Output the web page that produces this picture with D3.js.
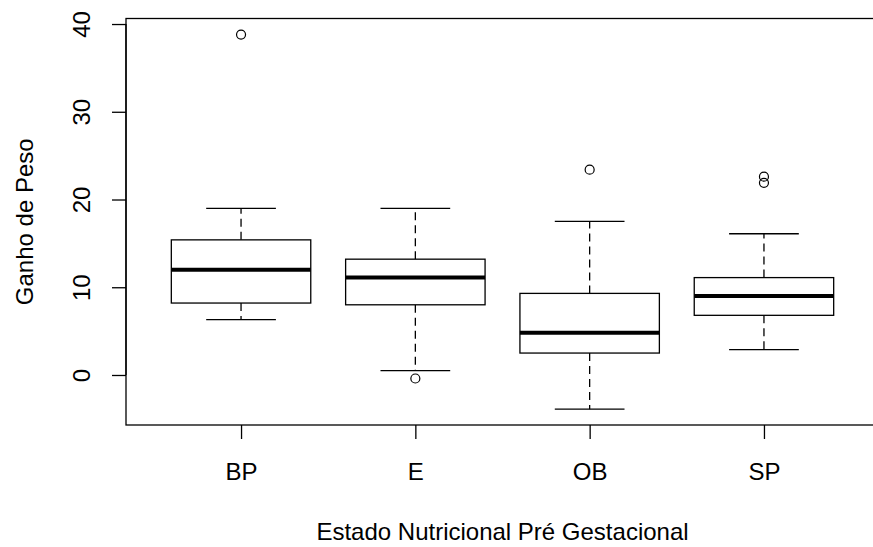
<!DOCTYPE html>
<html>
<head>
<meta charset="utf-8">
<script src="https://cdn.jsdelivr.net/npm/d3@7"></script>
<style>
    body { margin: 0; background: #fff; }
    svg { display: block; }
    text { font-family: "Liberation Sans", Arial, sans-serif; fill: #000; }
</style>
</head>
<body>
<div id="chart"></div>
<script>
// boxplot stats
const categories = ['BP', 'E', 'OB', 'SP'];
const whiskerLow = [6.3, 0.5, -3.9, 2.9];
const q1 = [8.2, 8.0, 2.5, 6.8];
const median = [12.0, 11.1, 4.8, 9.0];
const q3 = [15.4, 13.2, 9.3, 11.1];
const whiskerHigh = [19.0, 19.0, 17.5, 16.1];
const outliers = [[38.8], [-0.4], [23.4], [22.6, 21.9]];
const yTicks = [0, 10, 20, 30, 40];

const width = 873;
const height = 547;
const plot = { left: 126, right: 879, top: 18.5, bottom: 425 };

const svg = d3.select('#chart')
    .append('svg')
    .attr('width', width)
    .attr('height', height);

const x = d3.scaleLinear()
    .domain([0.34, categories.length + 0.66])
    .range([plot.left, plot.right]);

const y = d3.scaleLinear()
    .domain([-5.7, 40.63])
    .range([plot.bottom, plot.top]);

const boxW = 0.8; // in category units
const rows = categories.map((c, i) => ({
    label: c, pos: i + 1,
    lo: whiskerLow[i], q1: q1[i], med: median[i], q3: q3[i], hi: whiskerHigh[i],
    out: outliers[i]
}));

const g = svg.append('g').attr('stroke', '#000').attr('fill', 'none');

// whiskers (dashed)
g.selectAll('.whisker-low')
    .data(rows)
    .join('line')
    .attr('x1', d => x(d.pos)).attr('x2', d => x(d.pos))
    .attr('y1', d => y(d.q1)).attr('y2', d => y(d.lo))
    .attr('stroke-width', 1.3)
    .attr('stroke-dasharray', '8,5');

g.selectAll('.whisker-high')
    .data(rows)
    .join('line')
    .attr('x1', d => x(d.pos)).attr('x2', d => x(d.pos))
    .attr('y1', d => y(d.q3)).attr('y2', d => y(d.hi))
    .attr('stroke-width', 1.3)
    .attr('stroke-dasharray', '8,5');

// staples
['lo', 'hi'].forEach(k => {
    g.selectAll('.cap-' + k)
        .data(rows)
        .join('line')
        .attr('x1', d => x(d.pos - boxW / 4)).attr('x2', d => x(d.pos + boxW / 4))
        .attr('y1', d => y(d[k])).attr('y2', d => y(d[k]))
        .attr('stroke-width', 1.3);
});

// boxes
g.selectAll('rect.box')
    .data(rows)
    .join('rect')
    .attr('class', 'box')
    .attr('x', d => x(d.pos - boxW / 2))
    .attr('width', d => x(d.pos + boxW / 2) - x(d.pos - boxW / 2))
    .attr('y', d => y(d.q3))
    .attr('height', d => y(d.q1) - y(d.q3))
    .attr('fill', '#fff')
    .attr('stroke-width', 1.3);

// medians
g.selectAll('.median')
    .data(rows)
    .join('line')
    .attr('x1', d => x(d.pos - boxW / 2)).attr('x2', d => x(d.pos + boxW / 2))
    .attr('y1', d => y(d.med)).attr('y2', d => y(d.med))
    .attr('stroke-width', 4);

// outliers
g.selectAll('circle')
    .data(rows.flatMap(d => d.out.map(v => ({ pos: d.pos, v }))))
    .join('circle')
    .attr('cx', d => x(d.pos))
    .attr('cy', d => y(d.v))
    .attr('r', 4.5)
    .attr('stroke-width', 1.2);

// axes
const xAxis = svg.append('g')
    .attr('transform', `translate(0,${plot.bottom})`)
    .call(d3.axisBottom(x).tickValues(categories.map((c, i) => i + 1))
        .tickFormat(d => categories[d - 1]).tickSize(14).tickSizeOuter(0).tickPadding(0));
xAxis.select('.domain').remove();
xAxis.selectAll('line').attr('stroke', '#000').attr('stroke-width', 1.3);
xAxis.selectAll('text')
    .attr('y', 55).attr('dy', 0)
    .style('font-size', '24px')
    .style('font-family', '"Liberation Sans", Arial, sans-serif');

const yAxis = svg.append('g')
    .attr('transform', `translate(${plot.left},0)`)
    .call(d3.axisLeft(y).tickValues(yTicks).tickSize(14).tickSizeOuter(0));
yAxis.select('.domain')
    .attr('d', `M0,${y(yTicks[0])}V${y(yTicks[yTicks.length - 1])}`)
    .attr('stroke', '#000').attr('stroke-width', 1.3);
yAxis.selectAll('line').attr('stroke', '#000').attr('stroke-width', 1.3);
yAxis.selectAll('text')
    .attr('x', 0).attr('dy', 0)
    .attr('transform', 'translate(-36,0) rotate(-90)')
    .attr('text-anchor', 'middle')
    .style('font-size', '24px')
    .style('font-family', '"Liberation Sans", Arial, sans-serif');

// plot frame
svg.append('rect')
    .attr('x', plot.left).attr('y', plot.top)
    .attr('width', plot.right - plot.left)
    .attr('height', plot.bottom - plot.top)
    .attr('fill', 'none')
    .attr('stroke', '#000')
    .attr('stroke-width', 1.3);

// titles
svg.append('text')
    .attr('x', (plot.left + plot.right) / 2)
    .attr('y', 540)
    .attr('text-anchor', 'middle')
    .style('font-size', '24px')
    .text('Estado Nutricional Pré Gestacional');

svg.append('text')
    .attr('transform', `translate(33,${(plot.top + plot.bottom) / 2}) rotate(-90)`)
    .attr('text-anchor', 'middle')
    .style('font-size', '24px')
    .text('Ganho de Peso');
</script>
</body>
</html>
